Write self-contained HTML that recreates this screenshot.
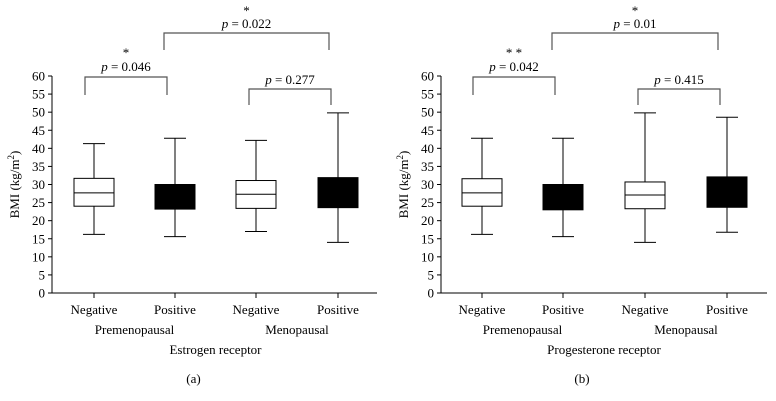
<!DOCTYPE html>
<html><head><meta charset="utf-8"><style>
body{margin:0;background:#fff;}
svg{display:block;font-family:"Liberation Serif",serif;}
</style></head><body>
<svg id="c" width="776" height="401" viewBox="0 0 776 401"></svg>
<script>
const categories = ["Negative","Positive","Negative","Positive"];
const groups = ["Premenopausal","Menopausal"];
const panelTitles = ["Estrogen receptor","Progesterone receptor"];
const panelLabels = ["(a)","(b)"];
const yTicks = [0,5,10,15,20,25,30,35,40,45,50,55,60];
// [min, q1, median, q3, max]
const estrogenStats = [[16.2,24,27.7,31.7,41.3],[15.6,23.2,26.5,30,42.8],[17,23.4,27.3,31.1,42.2],[14,23.6,28,31.9,49.8]];
const progesteroneStats = [[16.2,24,27.7,31.6,42.8],[15.6,23,26.5,30,42.8],[14,23.3,27.1,30.7,49.8],[16.8,23.7,28,32.1,48.6]];
const estrogenPvals = ["0.046","0.022","0.277"];
const progesteronePvals = ["0.042","0.01","0.415"];
const estrogenStars = ["*","*",""];
const progesteroneStars = ["* *","*",""];

const svg=document.getElementById('c');
const NS='http://www.w3.org/2000/svg';
function mk(t,a,p){const e=document.createElementNS(NS,t);for(const k in a)e.setAttribute(k,a[k]);(p||svg).appendChild(e);return e;}
const y0=293,yTop=76;
function yScale(v){return y0-(v/60)*(y0-yTop);}

const panels=[
 {ax:52,end:377,cx:[94,175,256,338],stats:estrogenStats,p:estrogenPvals,s:estrogenStars},
 {ax:441,end:767,cx:[482,563,645,727],stats:progesteroneStats,p:progesteronePvals,s:progesteroneStars}
];
panels.forEach((P,pi)=>{
 const g=mk('g',{});
 
 
 const ya=mk('line',{x1:P.ax,y1:yTop,x2:P.ax,y2:y0,stroke:'#000','stroke-width':1},g);
 
 const xa=mk('line',{x1:P.ax,y1:y0,x2:P.end,y2:y0,stroke:'#000','stroke-width':1},g);
 
 yTicks.forEach(t=>{
  const y=yScale(t);
  mk('line',{x1:P.ax-4,y1:y,x2:P.ax,y2:y,stroke:'#000'},g);
  const tx=mk('text',{x:P.ax-7,y:y+4.5,'text-anchor':'end','font-size':13},g);tx.textContent=t;
  
 });
 const yt=mk('text',{transform:`translate(${P.ax-33},${yScale(30)}) rotate(-90)`,'text-anchor':'middle','font-size':13},g);
 yt.innerHTML='BMI (kg/m<tspan dy="-5" font-size="9">2</tspan><tspan dy="5">)</tspan>';
 
 P.stats.forEach((s,i)=>{
  const cx=P.cx[i],w=20,cap=11,fill=i%2?'#000':'#fff';
  const b=mk('g',{},g);
  
  
  mk('line',{x1:cx,y1:yScale(s[0]),x2:cx,y2:yScale(s[4]),stroke:'#000'},b);
  mk('line',{x1:cx-cap,y1:yScale(s[0]),x2:cx+cap,y2:yScale(s[0]),stroke:'#000'},b);
  mk('line',{x1:cx-cap,y1:yScale(s[4]),x2:cx+cap,y2:yScale(s[4]),stroke:'#000'},b);
  mk('rect',{x:cx-w,y:yScale(s[3]),width:2*w,height:yScale(s[1])-yScale(s[3]),fill:fill,stroke:'#000'},b);
  if(i%2==0) mk('line',{x1:cx-w,y1:yScale(s[2]),x2:cx+w,y2:yScale(s[2]),stroke:'#000'},b);
  mk('line',{x1:cx,y1:y0,x2:cx,y2:y0+5,stroke:'#000'},g);
  const c=mk('text',{x:cx,y:314,'text-anchor':'middle','font-size':13},g);c.textContent=categories[i];
  
 });
 [[0,1],[2,3]].forEach((pr,k)=>{
  const gt=mk('text',{x:(P.cx[pr[0]]+P.cx[pr[1]])/2,y:334,'text-anchor':'middle','font-size':13},g);gt.textContent=groups[k];
  
 });
 const mid=(P.cx[1]+P.cx[2])/2;
 const tt=mk('text',{x:mid,y:354,'text-anchor':'middle','font-size':13},g);tt.textContent=panelTitles[pi];
 
 const pl=mk('text',{x:mid-22,y:383,'text-anchor':'middle','font-size':13},g);pl.textContent=panelLabels[pi];
 
 // brackets
 const br=[{a:P.cx[0]-9,b:P.cx[1]-8,top:77,bot:95,ty:71,sy:57},
           {a:P.cx[1]-11,b:P.cx[3]-9,top:33,bot:50,ty:28,sy:15},
           {a:P.cx[2]-7,b:P.cx[3]-7,top:89,bot:105,ty:84,sy:0}];
 br.forEach((B,k)=>{
  const bg=mk('g',{},g);
  
  
  mk('polyline',{points:`${B.a},${B.bot} ${B.a},${B.top} ${B.b},${B.top} ${B.b},${B.bot}`,fill:'none',stroke:'#555','stroke-width':1.2},bg);
  const m=(B.a+B.b)/2;
  const t=mk('text',{x:m,y:B.ty,'text-anchor':'middle','font-size':13},bg);
  t.innerHTML='<tspan font-style="italic">p</tspan> = '+P.p[k];
  if(P.s[k]){const st=mk('text',{x:m,y:B.sy,'text-anchor':'middle','font-size':13},bg);st.textContent=P.s[k];}
 });
});
</script>
</body></html>
